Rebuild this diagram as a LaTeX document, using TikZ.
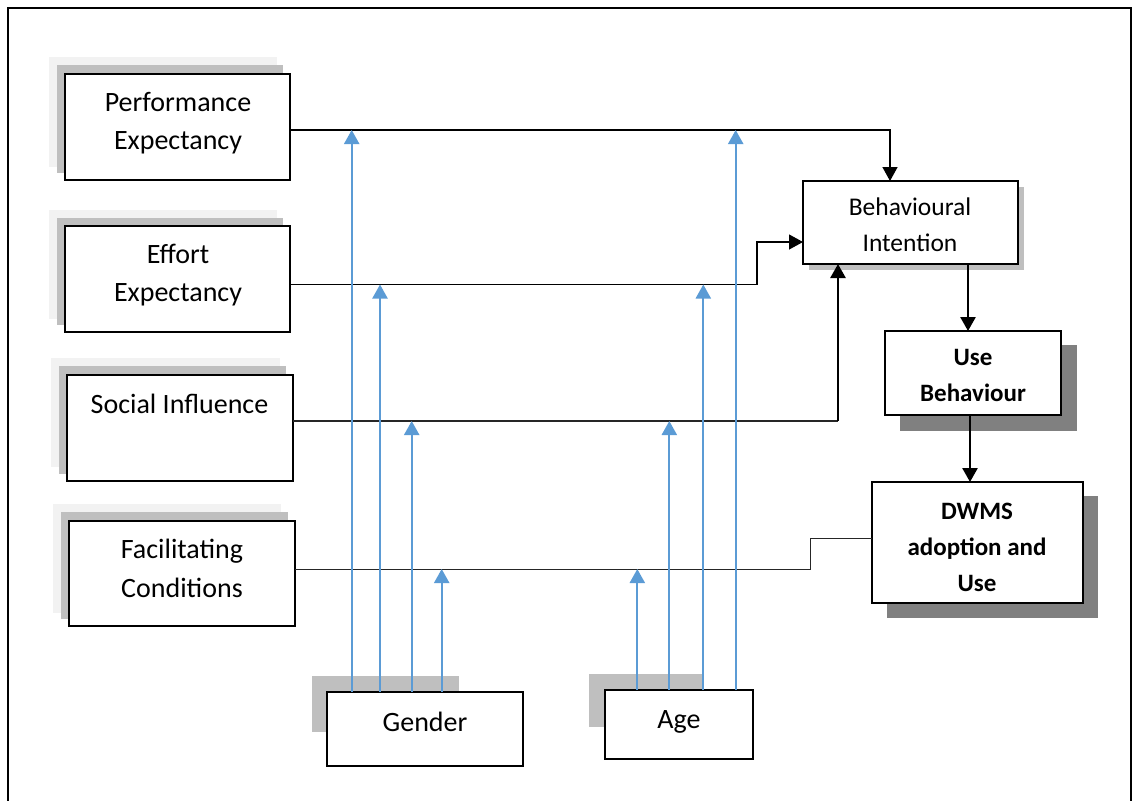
\documentclass[tikz,border=0pt]{standalone}
\usepackage{fontspec}
\setmainfont{Carlito}
\usetikzlibrary{arrows.meta,calc}
\definecolor{mblue}{HTML}{5B9BD5}
\definecolor{shlight}{HTML}{F2F2F2}
\definecolor{shmid}{HTML}{BFBFBF}
\definecolor{shdark}{HTML}{808080}
\begin{document}
\begin{tikzpicture}[x=1pt,y=-1pt,
  box/.style={draw=black,line width=1.6pt,fill=white,inner sep=0pt,outer sep=0pt},
  txt/.style={font=\fontsize{28}{38.5}\selectfont,align=center,anchor=base,inner sep=0pt},
  txts/.style={font=\fontsize{25.5}{36}\selectfont,align=center,anchor=base,inner sep=0pt},
  txtb/.style={font=\fontsize{25}{36}\selectfont\bfseries,align=center,anchor=base,inner sep=0pt},
  conn/.style={draw=black,line width=1.4pt},
  thin conn/.style={draw=black!85,line width=1.1pt},
  thick conn/.style={draw=black,line width=2.6pt},
  tip/.style={-{Triangle[width=15pt,length=14pt]}},
  bl/.style={draw=mblue,line width=2.2pt,-{Triangle[width=15pt,length=14pt]}}
]
\useasboundingbox (0,0) rectangle (1134,800);
% outer frame
\draw[line width=2.5pt] (8,805) -- (8,8) -- (1131,8) -- (1131,805);

% shadows
\fill[shlight] (49,57) rectangle (277,167);
\fill[shmid] (57,65) rectangle (283,173);
\fill[shlight] (49,210) rectangle (277,319);
\fill[shmid] (57,218) rectangle (283,325);
\fill[shlight] (51,358) rectangle (280,467);
\fill[shmid] (59,366) rectangle (286,474);
\fill[shlight] (53,504) rectangle (281,613);
\fill[shmid] (61,512) rectangle (288,619);
\fill[shmid] (809,187) rectangle (1024,270);
\fill[shdark] (900,345) rectangle (1077,431);
\fill[shdark] (887,496) rectangle (1098,618);
\fill[shmid] (312,676) rectangle (459,732);
\fill[shmid] (589,674) rectangle (702,727);

% boxes
\node[box,minimum width=225pt,minimum height=106pt] (pe) at (177.5,127) {};
\node[box,minimum width=225pt,minimum height=106pt] (ee) at (177.5,279) {};
\node[box,minimum width=226pt,minimum height=106pt] (si) at (180,428) {};
\node[box,minimum width=226pt,minimum height=105pt] (fc) at (182,573.5) {};
\node[box,minimum width=215pt,minimum height=83pt] (bi) at (910.5,222.5) {};
\node[box,minimum width=176pt,minimum height=84pt] (ub) at (973,373) {};
\node[box,minimum width=211pt,minimum height=121pt] (dw) at (977.5,542.5) {};
\node[box,minimum width=196pt,minimum height=74pt] (gender) at (425,729) {};
\node[box,minimum width=148pt,minimum height=69pt] (age) at (679,724.5) {};

% texts (anchor = baseline of last line)
\node[txt] (pe-t) at (178,149.5) {Performance\\Expectancy};
\node[txt] (ee-t) at (178,301.5) {Effort\\Expectancy};
\node[txt] (si-t) at (179.5,413) {Social Influence};
\node[txt] (fc-t) at (182,597) {Facilitating\\Conditions};
\node[txts] (bi-t) at (910,251.7) {Behavioural\\Intention};
\node[txtb] (ub-t) at (973,401.7) {Use\\Behaviour};
\node[txtb] (dw-t) at (977,591.5) {DWMS\\adoption and\\Use};
\node[txt] (gender-t) at (425,731.5) {Gender};
\node[txt] (age-t) at (679,728.3) {Age};

% line levels
\coordinate (peL) at (0,130);
\coordinate (eeL) at (0,284.5);
\coordinate (siL) at (0,421);
\coordinate (fcL) at (0,569);
\coordinate (eeStep) at (757,284.5);
\coordinate (siStep) at (838,421);
\coordinate (fcStep) at (810,569);

% black connectors
\draw[conn,tip] ([yshift=-3pt]pe.east) -| ([xshift=-20.5pt]bi.north);
\draw[conn,line width=1.2pt,tip] ([yshift=-5.5pt]ee.east) -- (eeStep) |- ([yshift=-19.5pt]bi.west);
\draw[thin conn] ([yshift=7pt]si.east) -- (siStep);
\draw[thick conn,tip] (siStep) -- (siStep |- bi.south);
\draw[thin conn,line width=1pt] ([yshift=4.5pt]fc.east) -- (fcStep) |- ([yshift=4.5pt]dw.west);
\draw[thick conn,tip] ([xshift=57.5pt]bi.south) -- ([xshift=57.5pt]bi.south |- ub.north);
\draw[thick conn,tip] ([xshift=-3pt]ub.south) -- ([xshift=-3pt]ub.south |- dw.north);

% moderators: gender
\draw[bl] ([xshift=-73.3pt]gender.north) -- ([xshift=-73.3pt]gender.north |- peL);
\draw[bl] ([xshift=-45pt]gender.north) -- ([xshift=-45pt]gender.north |- eeL);
\draw[bl] ([xshift=-13.3pt]gender.north) -- ([xshift=-13.3pt]gender.north |- siL);
\draw[bl] ([xshift=16.7pt]gender.north) -- ([xshift=16.7pt]gender.north |- fcL);
% moderators: age
\draw[bl] ([xshift=-41.7pt]age.north) -- ([xshift=-41.7pt]age.north |- fcL);
\draw[bl] ([xshift=-9.7pt]age.north) -- ([xshift=-9.7pt]age.north |- siL);
\draw[bl] ([xshift=24.3pt]age.north) -- ([xshift=24.3pt]age.north |- eeL);
\draw[bl] ([xshift=56.7pt]age.north) -- ([xshift=56.7pt]age.north |- peL);
\end{tikzpicture}
\end{document}
